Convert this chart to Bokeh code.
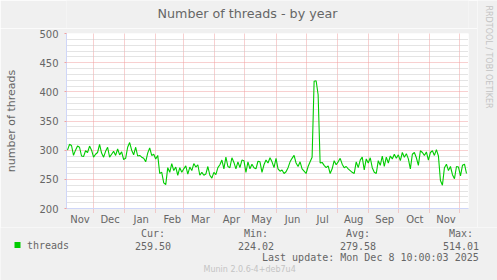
import math
from datetime import datetime, timedelta

from bokeh.plotting import figure
from bokeh.layouts import row, column
from bokeh.models import Range1d, FixedTicker, CustomJSTickFormatter
from bokeh.core.properties import value
from bokeh.embed import file_html
from bokeh.resources import INLINE

# ---------------- data ----------------
sample_start = datetime(2024, 11, 5)
sample_step_days = 2
threads = [
    300, 310, 308, 291, 300, 307, 305, 290, 289, 299,
    296, 307, 300, 288, 293, 296, 310, 295, 288, 298,
    305, 288, 293, 298, 291, 302, 292, 297, 284, 286,
    305, 313, 300, 292, 305, 290, 291, 288, 286, 280,
    295, 304, 291, 293, 285, 291, 260, 262, 244, 241,
    270, 262, 277, 265, 271, 257, 270, 262, 268, 273,
    259, 271, 265, 277, 271, 275, 257, 262, 257, 259,
    272, 257, 252, 262, 258, 270, 275, 283, 268, 288,
    272, 270, 287, 279, 268, 280, 270, 283, 282, 262,
    280, 268, 276, 270, 268, 281, 280, 262, 275, 283,
    278, 287, 280, 270, 286, 268, 264, 266, 260, 263,
    270, 280, 286, 291, 278, 272, 280, 268, 264, 260,
    272, 280, 288, 418, 419, 395, 278, 279, 274, 270,
    273, 260, 268, 282, 275, 280, 286, 276, 270, 272,
    268, 265, 262, 260, 280, 270, 283, 288, 266, 285,
    278, 287, 270, 262, 260, 282, 274, 290, 272, 288,
    278, 290, 285, 293, 286, 292, 282, 296, 288, 294,
    285, 268, 293, 296, 287, 274, 299, 296, 291, 297,
    283, 296, 299, 291, 301, 290, 248, 240, 270, 276,
    265, 272, 258, 251, 272, 271, 256, 274, 276, 260,
]
dates = [sample_start + timedelta(days=sample_step_days * i) for i in range(len(threads))]

x_start = datetime(2024, 11, 4)
x_end = datetime(2025, 12, 10)
month_starts = [datetime(2024, 12, 1)] + [datetime(2025, m, 1) for m in range(1, 13)]
label_dates = ([datetime(2024, 11, 17, 12), datetime(2024, 12, 17, 12)]
               + [datetime(2025, m, 17, 12) for m in range(1, 12)])
month_names = ["Jan", "Feb", "Mar", "Apr", "May", "Jun",
               "Jul", "Aug", "Sep", "Oct", "Nov", "Dec"]
y_major = [200, 250, 300, 350, 400, 450, 500]
y_minor = [v for v in range(200, 501, 10) if v % 50 != 0]

title_text = "Number of threads - by year"
y_label_text = "number of threads"
series_name = "threads"
stat_headers = ["Cur:", "Min:", "Avg:", "Max:"]
stat_values = ["259.50", "224.02", "279.58", "514.01"]
last_update = "Last update: Mon Dec  8 10:00:03 2025"
version_text = "Munin 2.0.6-4+deb7u4"
watermark_text = "RRDTOOL / TOBI OETIKER"

# ---------------- layout / styling ----------------
W, H = 497, 280
FL, FR, FT, FB = 66, 468, 33, 208      # plot frame edges (page px)
MAIN_W = 477                           # main figure width (rest: watermark strip)
TITLE_H = 28                           # title strip height
MAIN_BOTTOM = 227                      # bottom of main figure (legend below)
BG = "#F0F0F0"
FONT_C = "#666666"
FAINT_C = "#C4C4C4"
AXIS_C = "#CFD6F8"
MGRID_C = "#F0A0A0"
GRID_C = "#C8C8C8"
GREEN = "#00CC00"
SANS = "DejaVu Sans"
MONO = "DejaVu Sans Mono"

EPOCH = datetime(1970, 1, 1)
def ms(d):
    return (d - EPOCH).total_seconds() * 1000.0


def blank(w, h, x0, y0, bl=0, br=0):
    """A figure strip in page-pixel coordinates (frame spans x0+bl .. x0+w-br)."""
    f = figure(width=w, height=h,
               x_range=Range1d(x0 + bl, x0 + w - br), y_range=Range1d(y0 + h, y0),
               output_backend="svg", toolbar_location=None,
               x_axis_location=None, y_axis_location=None,
               min_border_left=bl, min_border_right=br,
               min_border_top=0, min_border_bottom=0,
               background_fill_color=BG, border_fill_color=BG,
               outline_line_color=None)
    f.grid.visible = False
    return f


# ---- main plot ----
p = figure(width=MAIN_W, height=MAIN_BOTTOM - TITLE_H, x_axis_type="datetime",
           x_range=Range1d(x_start, x_end), y_range=Range1d(y_major[0], y_major[-1]),
           output_backend="svg", toolbar_location=None,
           min_border_left=FL, min_border_right=MAIN_W - FR,
           min_border_top=FT - TITLE_H, min_border_bottom=MAIN_BOTTOM - FB,
           background_fill_color="white", border_fill_color=BG,
           outline_line_color=None)

p.xaxis.ticker = FixedTicker(ticks=[ms(d) for d in label_dates],
                             minor_ticks=[ms(d) for d in month_starts])
p.xaxis.formatter = CustomJSTickFormatter(code="""
const m = %s;
return m[new Date(tick).getUTCMonth()];
""" % str(month_names))
p.xaxis.major_tick_line_color = None
p.xaxis.minor_tick_line_color = MGRID_C
p.xaxis.minor_tick_line_dash = "1 1"
p.xaxis.minor_tick_out = 4
p.xaxis.minor_tick_in = 0
p.xaxis.major_tick_out = 0
p.xaxis.axis_line_color = AXIS_C
p.xaxis.major_label_standoff = 1
p.xaxis.major_label_text_font = SANS
p.xaxis.major_label_text_font_size = "10px"
p.xaxis.major_label_text_color = FONT_C

p.yaxis.ticker = FixedTicker(ticks=y_major, minor_ticks=y_minor)
p.yaxis.minor_tick_line_color = None
p.yaxis.major_tick_line_color = MGRID_C
p.yaxis.major_tick_out = 2
p.yaxis.major_tick_in = 0
p.yaxis.major_label_standoff = 4
p.yaxis.axis_line_color = AXIS_C
p.yaxis.major_label_text_font = SANS
p.yaxis.major_label_text_font_size = "10px"
p.yaxis.major_label_text_color = FONT_C
p.yaxis.axis_label = y_label_text
p.yaxis.axis_label_text_font = SANS
p.yaxis.axis_label_text_font_size = "11px"
p.yaxis.axis_label_text_font_style = "normal"
p.yaxis.axis_label_text_color = FONT_C
p.yaxis.axis_label_standoff = 18

p.xgrid.ticker = FixedTicker(ticks=[ms(d) for d in month_starts])
p.xgrid.grid_line_color = MGRID_C
p.xgrid.grid_line_dash = "1 1"
p.ygrid.grid_line_color = MGRID_C
p.ygrid.grid_line_dash = "1 1"
p.ygrid.minor_grid_line_color = GRID_C
p.ygrid.minor_grid_line_dash = "1 1"

p.line(dates, threads, line_color=GREEN, line_width=1.1)

# ---- title strip (frame aligned with the plot frame) ----
t = blank(MAIN_W, TITLE_H, 0, 0, bl=FL, br=MAIN_W - FR)
t.text(x=[157], y=[13], text=[title_text], text_font=value(SANS),
       text_font_size=value("12.7px"), text_color=FONT_C,
       text_align="left", text_baseline="middle")

# ---- watermark strip ----
wm = blank(W - MAIN_W, MAIN_BOTTOM, MAIN_W, 0)
wm.text(x=[488], y=[56.5], text=[watermark_text], angle=-math.pi / 2,
        text_font=value(SANS), text_font_size=value("8px"), text_color=FAINT_C,
        text_align="center", text_baseline="middle")

# ---- legend strip ----
lg = blank(W, H - MAIN_BOTTOM, 0, MAIN_BOTTOM)
lg.quad(left=[14], right=[20], top=[241.5], bottom=[247.5],
        fill_color=GREEN, line_color=None)
lg.text(x=[26.5], y=[245], text=[series_name], text_font=value(MONO),
        text_font_size=value("10px"), text_color=FONT_C,
        text_align="left", text_baseline="middle")
col_ends = [170.5, 273.5, 375.5, 478.5]
lg.text(x=[e - 6 for e in col_ends], y=[233.3] * 4, text=stat_headers,
        text_font=value(MONO), text_font_size=value("10px"), text_color=FONT_C,
        text_align="right", text_baseline="middle")
lg.text(x=col_ends, y=[245] * 4, text=stat_values,
        text_font=value(MONO), text_font_size=value("10px"), text_color=FONT_C,
        text_align="right", text_baseline="middle")
lg.text(x=[261.5], y=[257], text=[last_update], text_font=value(MONO),
        text_font_size=value("10px"), text_color=FONT_C,
        text_align="left", text_baseline="middle")
lg.text(x=[203], y=[269], text=[version_text], text_font=value(SANS),
        text_font_size=value("8px"), text_color=FAINT_C,
        text_align="left", text_baseline="middle")

layout = column(row(column(t, p), wm), lg)

open("out.html", "w").write(file_html(layout, INLINE))
